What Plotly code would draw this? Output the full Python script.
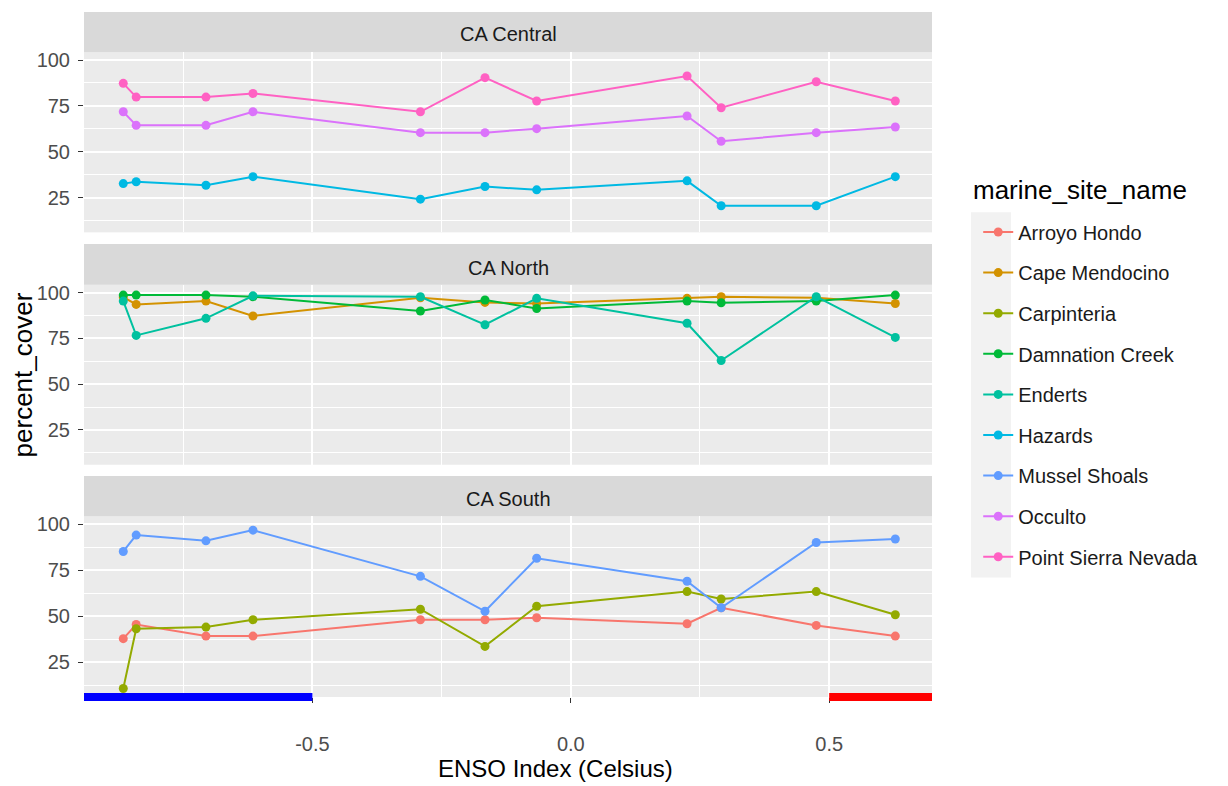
import plotly.graph_objects as go

# ---------------- data ----------------
enso_index = [-0.866, -0.841, -0.706, -0.615, -0.291, -0.166, -0.066, 0.225, 0.291, 0.475, 0.628]

regions = ["CA Central", "CA North", "CA South"]

site_names = ["Arroyo Hondo", "Cape Mendocino", "Carpinteria", "Damnation Creek", "Enderts",
              "Hazards", "Mussel Shoals", "Occulto", "Point Sierra Nevada"]
site_regions = ["CA South", "CA North", "CA South", "CA North", "CA North",
                "CA Central", "CA South", "CA Central", "CA Central"]

arroyo_hondo = [37.7, 45.4, 39.1, 39.1, 48.0, 48.0, 49.1, 45.8, 54.5, 44.9, 39.1]
cape_mendocino = [97.5, 93.5, 95.3, 87.2, 97.1, 94.6, 94.0, 96.8, 97.7, 97.1, 94.0]
carpinteria = [10.6, 43.1, 44.0, 48.0, 53.7, 33.5, 55.3, 63.3, 59.3, 63.3, 50.7]
damnation_creek = [98.6, 98.6, 98.6, 97.7, 89.9, 95.9, 91.3, 95.3, 94.4, 95.3, 98.6]
enderts = [95.3, 76.6, 85.9, 98.2, 97.7, 82.4, 96.8, 83.2, 62.9, 97.7, 75.5]
hazards = [32.6, 33.6, 31.7, 36.4, 24.1, 31.0, 29.2, 34.1, 20.5, 20.5, 36.4]
mussel_shoals = [85.1, 94.0, 90.9, 96.7, 71.6, 52.6, 81.4, 68.9, 54.5, 90.0, 91.9]
occulto = [71.8, 64.4, 64.4, 71.8, 60.4, 60.4, 62.6, 69.5, 55.7, 60.4, 63.5]
point_sierra_nevada = [87.3, 79.8, 79.8, 81.8, 71.8, 90.4, 77.7, 91.3, 74.0, 88.2, 77.7]

site_values = [arroyo_hondo, cape_mendocino, carpinteria, damnation_creek, enderts,
               hazards, mussel_shoals, occulto, point_sierra_nevada]

x_tickvals = [-0.5, 0.0, 0.5]
x_ticktext = ["-0.5", "0.0", "0.5"]
y_tickvals = [25, 50, 75, 100]
y_ticktext = ["25", "50", "75", "100"]

# ENSO phase thresholds (La Nina below, El Nino above)
la_nina_threshold = -0.5
el_nino_threshold = 0.5

# ---------------- styling ----------------
palette = ["#F8766D", "#D39200", "#93AA00", "#00BA38", "#00C19F",
           "#00B9E3", "#619CFF", "#DB72FB", "#FF61C3"]
FONT = "Liberation Sans, Arial, sans-serif"
x_range = [-0.942, 0.699]
y_range = [6, 104.3]

# layout geometry (paper fractions)
panel_domains = {"CA Central": [0.6783, 0.9413], "CA North": [0.3391, 0.6020], "CA South": [0.0, 0.2640]}
strip_domains = {"CA Central": [0.9413, 1.0], "CA North": [0.6020, 0.6613], "CA South": [0.2640, 0.3227]}
strip_text_y = {"CA Central": 0.968, "CA North": 0.6265, "CA South": 0.2892}
axis_ids = {"CA Central": ("x", "y", ""), "CA North": ("x2", "y2", "2"), "CA South": ("x3", "y3", "3")}

fig = go.Figure()

for name, region, vals, col in zip(site_names, site_regions, site_values, palette):
    xa, ya, _ = axis_ids[region]
    fig.add_trace(go.Scatter(
        x=enso_index, y=vals, mode="lines+markers", name=name, legendgroup=name,
        line=dict(color=col, width=2), marker=dict(color=col, size=9),
        xaxis=xa, yaxis=ya, showlegend=True,
    ))

layout = dict(
    width=1228, height=786,
    margin=dict(l=84, r=296, t=9, b=89),
    paper_bgcolor="white", plot_bgcolor="#EBEBEB",
    font=dict(family=FONT, color="#1A1A1A"),
    showlegend=True,
    legend=dict(
        font=dict(size=20, color="#1A1A1A", family=FONT),
        x=1.0545, xanchor="left", y=0.7073, yanchor="top",
        bgcolor="rgba(0,0,0,0)", traceorder="grouped", tracegroupgap=11.6,
        itemwidth=30,
    ),
)

for region in regions:
    xa, ya, suf = axis_ids[region]
    bottom = region == "CA South"
    layout["xaxis" + suf] = dict(
        domain=[0, 1], anchor=ya, range=x_range, showgrid=True, gridcolor="white", gridwidth=2.2,
        tickmode="array", tickvals=x_tickvals, ticktext=x_ticktext,
        minor=dict(tickvals=[-0.75, -0.25, 0.25], showgrid=True, gridcolor="white", gridwidth=1.1),
        zeroline=False, showline=False,
        ticks="outside" if bottom else "", ticklen=5, tickwidth=1.1, tickcolor="#333333",
        showticklabels=bottom, tickfont=dict(size=20, color="#4D4D4D", family=FONT),
        ticklabelstandoff=24 if bottom else 0,
    )
    layout["yaxis" + suf] = dict(
        domain=panel_domains[region], anchor=xa, range=y_range, showgrid=True, gridcolor="white",
        gridwidth=2.2, tickmode="array", tickvals=y_tickvals, ticktext=y_ticktext,
        minor=dict(tickvals=[12.5, 37.5, 62.5, 87.5], showgrid=True, gridcolor="white", gridwidth=1.1),
        zeroline=False, showline=False, ticks="outside", ticklen=5, tickwidth=1.1, tickcolor="#333333",
        tickfont=dict(size=20, color="#4D4D4D", family=FONT), ticklabelstandoff=4,
    )

shapes = []
annotations = []
for region in regions:
    y0, y1 = strip_domains[region]
    shapes.append(dict(type="rect", xref="paper", yref="paper", x0=0, x1=1, y0=y0, y1=y1,
                       fillcolor="#D9D9D9", line=dict(width=0), layer="below"))
    annotations.append(dict(text=region, xref="paper", yref="paper", x=0.5, y=strip_text_y[region],
                            showarrow=False, xanchor="center", yanchor="middle",
                            font=dict(size=20, color="#1A1A1A", family=FONT)))

# ENSO phase bars along the bottom panel
shapes.append(dict(type="line", xref="x3", yref="paper", x0=x_range[0], x1=la_nina_threshold, y0=0, y1=0,
                   line=dict(color="#0000FF", width=8), layer="above"))
shapes.append(dict(type="line", xref="x3", yref="paper", x0=el_nino_threshold, x1=x_range[1], y0=0, y1=0,
                   line=dict(color="#FF0000", width=8), layer="above"))

# legend key background
shapes.append(dict(type="rect", xref="paper", yref="paper", x0=1.0460, x1=1.0932, y0=0.1744, y1=0.7078,
                   fillcolor="#F2F2F2", line=dict(width=0), layer="below"))

# legend title
annotations.append(dict(text="marine_site_name", xref="paper", yref="paper", x=1.0460, y=0.7398,
                        showarrow=False, xanchor="left", yanchor="middle",
                        font=dict(size=26, color="#000000", family=FONT)))

# axis titles
annotations.append(dict(text="ENSO Index (Celsius)", xref="paper", yref="paper", x=0.5566, y=-0.1275,
                        showarrow=False, xanchor="center", yanchor="bottom",
                        font=dict(size=24, color="#000000", family=FONT)))
annotations.append(dict(text="percent_cover", xref="paper", yref="paper", x=-0.0719, y=0.4695,
                        showarrow=False, xanchor="center", yanchor="middle", textangle=-90,
                        font=dict(size=26, color="#000000", family=FONT)))

layout["shapes"] = shapes
layout["annotations"] = annotations
fig.update_layout(**layout)

fig.write_html("out.html")
